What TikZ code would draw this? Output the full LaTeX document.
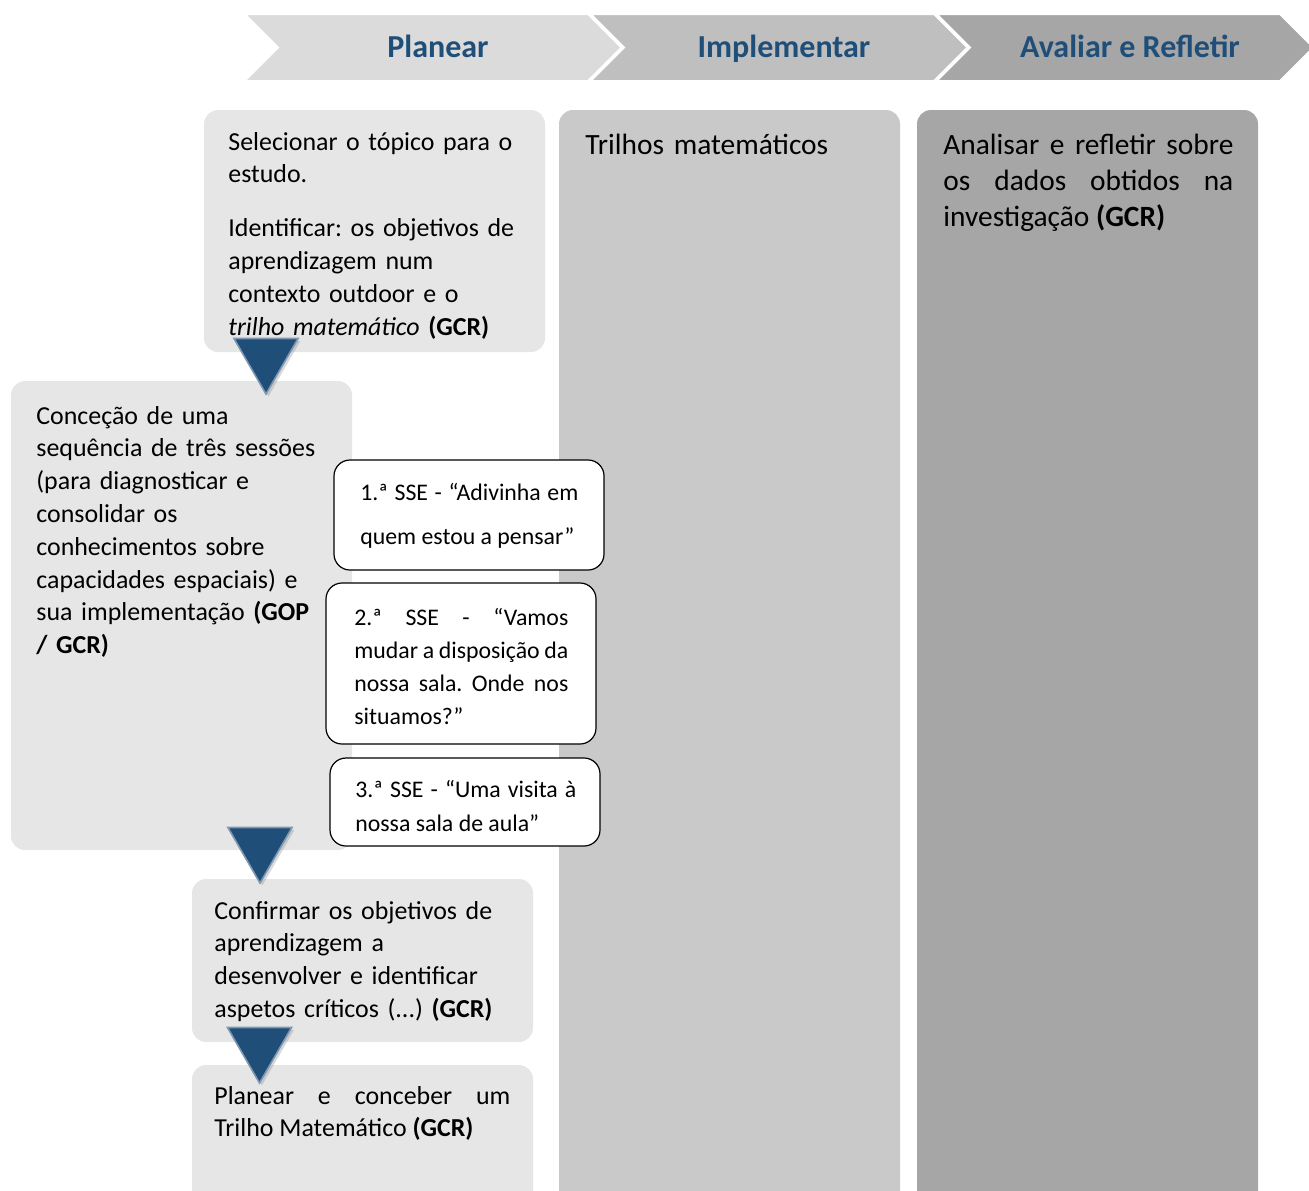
\documentclass[tikz,border=0pt]{standalone}
\usepackage{fontspec}
\setmainfont{Carlito}
\usepackage{tikz}
\usetikzlibrary{shapes,arrows,positioning,shadows}
\usetikzlibrary{calc}
\usepackage{color}
\frenchspacing

\definecolor{headblue}{HTML}{1F4E79}
\definecolor{arrowedge}{HTML}{8097B2}
\definecolor{stagegray}{HTML}{E6E6E6}
\definecolor{implgray}{HTML}{C9C9C9}
\definecolor{evalgray}{HTML}{A6A6A6}

\begin{document}
\begin{tikzpicture}[x=0.5pt,y=-0.5pt,
phase/.style={
% The shape:
signal, signal from=west, signal to=east, signal pointer angle=90,
% The size:
minimum width=188.5pt, minimum height=33.5pt, inner sep=0pt,
text height=12pt, text depth=2.5pt,
% The border:
draw=white, line width=1pt,
% Font
font=\fontsize{16}{19}\selectfont\bfseries, text=headblue
},
stage/.style={
% The shape:
rectangle, rounded corners=7pt,
% The size:
minimum width=170.5pt, inner sep=0pt, outer sep=0pt,
% The filling:
fill=stagegray, anchor=north west
},
column/.style={stage, minimum height=560pt},
session/.style={
% The shape:
rectangle, rounded corners=8pt,
% The size:
minimum width=135pt, inner sep=0pt, outer sep=0pt,
% The border:
draw=black, line width=0.6pt, fill=white, anchor=north west
},
body/.style={anchor=base west, inner sep=0pt, text width=146.5pt, align=left,
font=\fontsize{12.95}{16.4}\selectfont},
coltext/.style={body, text width=145pt, font=\fontsize{14.7}{18}\selectfont},
sessiontext/.style={body, text width=108pt, font=\fontsize{11.9}{16.5}\selectfont},
down/.style={
% The shape:
regular polygon, regular polygon sides=3, shape border rotate=180,
minimum size=37pt, inner sep=0pt,
% The border:
draw=arrowedge, line width=0.8pt, fill=headblue,
drop shadow={shadow xshift=1.2pt, shadow yshift=-1.2pt, opacity=0.3}
}]

\clip (0,0) rectangle (1309,1190);

% phases
\node (plan) [phase, fill=black!14] at (433,47.5) {\hspace*{5pt}Planear};
\node (impl) [phase, fill=black!25] at (779,47.5) {\hspace*{5pt}Implementar};
\node (eval) [phase, fill=evalgray] at (1125,47.5) {\hspace*{5pt}Avaliar e Refletir};

% columns
\node (boxA) [stage, minimum height=121pt] at (204,110) {};
\node (implcol) [column, fill=implgray, right=7pt of boxA.north east, anchor=north west] {};
\node (evalcol) [column, fill=evalgray, right=8.5pt of implcol.north east, anchor=north west] {};
\node (boxB) [stage, minimum height=234.5pt] at (11,381) {};
\node (boxC) [stage, minimum height=81.5pt] at (192,879) {};
\node (boxD) [stage, minimum height=100pt] at (192,1065) {};

\node (txtA) [body] at (228,150) {Selecionar o tópico para o\\ estudo.\\[10.5pt]
Identificar: os objetivos de\\ aprendizagem num\\ contexto outdoor e o\\
\textit{trilho matemático} \textbf{(GCR)}};
\node (txtImpl) [coltext] at (585,154) {Trilhos matemáticos};
\node (txtEval) [coltext, align=justify] at (943,154)
{Analisar e refletir sobre\linebreak os dados obtidos na\linebreak investigação \textbf{(GCR)}};
\node (txtB) [body] at (36,424) {Conceção de uma\\ sequência de três sessões\\
(para diagnosticar e\\ consolidar os\\ conhecimentos sobre\\
capacidades espaciais) e\\ sua implementação \textbf{(GOP}\\ \textbf{/ GCR)}};
\node (txtC) [body] at (214,919) {Confirmar os objetivos de\\ aprendizagem a\\
desenvolver e identificar\\ aspetos críticos (...) \textbf{(GCR)}};
\node (txtD) [body, text width=148pt, align=justify] at (214,1104)
{Planear e conceber um\linebreak Trilho Matemático \textbf{(GCR)}};

% sessions
\node (sse1) [session, minimum height=55pt] at (334,460) {};
\node (sse2) [session, minimum height=80.5pt] at (326,583) {};
\node (sse3) [session, minimum height=44pt] at (330,758) {};
\node (txt1) [sessiontext, text width=109pt, align=justify,
font=\fontsize{11.9}{22}\selectfont] at (360,500)
{1.ª SSE - “Adivinha em\linebreak quem estou a pensar”};
\node (txt2) [sessiontext, text width=107pt, align=justify] at (354,625)
{2.ª SSE - “Vamos\linebreak mudar a disposição da\linebreak nossa sala. Onde nos\linebreak situamos?”};
\node (txt3) [sessiontext, text width=110.5pt, align=justify,
font=\fontsize{11.9}{17}\selectfont] at (355,797)
{3.ª SSE - “Uma visita à\linebreak nossa sala de aula”};

% arrows
\node (t1) [down] at (266,357) {};
\node (t2) [down] at (260,846) {};
\node (t3) [down] at (259.5,1046) {};

\end{tikzpicture}
\end{document}
